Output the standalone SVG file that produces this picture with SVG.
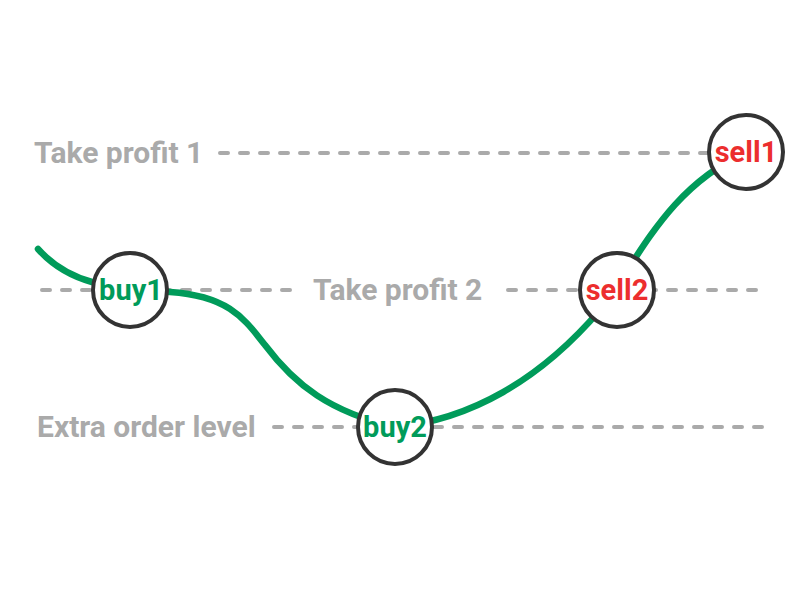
<svg xmlns="http://www.w3.org/2000/svg" width="800" height="600" viewBox="0 0 800 600">
<style>
.lvl{stroke:#aaaaaa;stroke-width:4;stroke-dasharray:8 12;stroke-linecap:round;fill:none}
.lbl{font-family:Roboto,"Liberation Sans",sans-serif;font-weight:bold;font-size:30px;fill:#aaaaaa}
.node{fill:#ffffff;stroke:#333333;stroke-width:4}
.nt{font-family:Roboto,"Liberation Sans",sans-serif;font-weight:bold;font-size:29px;text-anchor:middle}
.buy{fill:#009b5a}
.sell{fill:#ec2e2e}
.curve{stroke:#009b5a;stroke-width:6.5;fill:none;stroke-linecap:round}
</style>
<rect width="800" height="600" fill="#ffffff"/>
<g id="levels">
<text class="lbl" x="34" y="163">Take profit 1</text>
<line class="lvl" x1="220" y1="153" x2="710" y2="153"/>
<line class="lvl" x1="42" y1="290" x2="292" y2="290"/>
<text class="lbl" x="313" y="300">Take profit 2</text>
<line class="lvl" x1="508" y1="290" x2="756" y2="290"/>
<text class="lbl" x="37" y="437">Extra order level</text>
<line class="lvl" x1="274" y1="427" x2="762" y2="427"/>
</g>
<g id="connectors">
<path class="curve" d="M38,249 C70,285 110,288 170,292 C230,296 245,320 265,345 C295,385 330,412 395,427 C470,420 540,380 600,310 C640,258 665,190 746,152"/>
</g>
<g id="buy1"><circle class="node" cx="130" cy="290" r="37"/><text class="nt buy" x="131" y="300">buy1</text></g>
<g id="buy2"><circle class="node" cx="395" cy="427" r="37"/><text class="nt buy" x="395" y="437">buy2</text></g>
<g id="sell2"><circle class="node" cx="617" cy="290" r="37"/><text class="nt sell" x="617" y="300">sell2</text></g>
<g id="sell1"><circle class="node" cx="746" cy="152" r="37"/><text class="nt sell" x="746" y="162">sell1</text></g>
</svg>
